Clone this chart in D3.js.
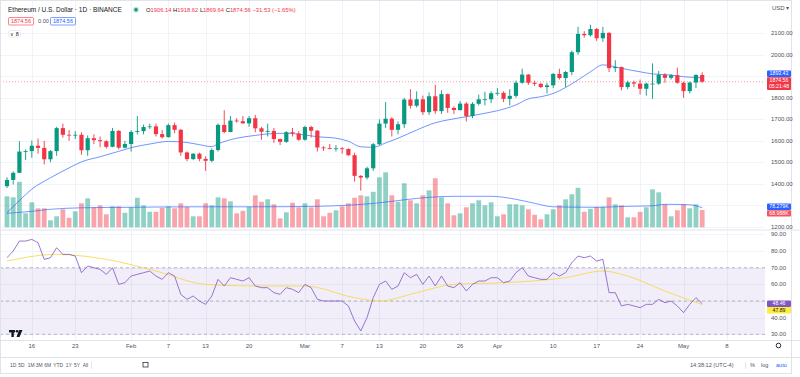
<!DOCTYPE html>
<html>
<head>
<meta charset="utf-8">
<script src="https://cdn.jsdelivr.net/npm/d3@7"></script>
<style>
  body { margin: 0; background: #ffffff; }
  svg { display: block; }
</style>
</head>
<body>
<script>

// ETH / USD daily candles from Jan 12 to May 4 2023 (one value per day)
var firstDay = "2023-01-12"
var lastTickDay = "2023-05-08"

var opens = [1389, 1418, 1451, 1550, 1552, 1577, 1567, 1514, 1552, 1659,
  1628, 1627, 1628, 1556, 1612, 1603, 1598, 1572, 1646, 1568,
  1585, 1641, 1645, 1664, 1667, 1631, 1617, 1673, 1651, 1546,
  1515, 1540, 1516, 1507, 1557, 1674, 1641, 1694, 1691, 1681,
  1705, 1658, 1642, 1646, 1608, 1595, 1640, 1634, 1605, 1664,
  1647, 1569, 1566, 1564, 1565, 1562, 1533, 1437, 1429, 1472,
  1584, 1680, 1703, 1651, 1677, 1792, 1763, 1793, 1733, 1807,
  1738, 1817, 1753, 1743, 1773, 1715, 1772, 1793, 1793, 1821,
  1823, 1795, 1809, 1870, 1908, 1870, 1865, 1850, 1858, 1911,
  1892, 1920, 2012, 2097, 2091, 2120, 2077, 2102, 1938, 1943,
  1850, 1872, 1866, 1842, 1866, 1866, 1907, 1893, 1905, 1870,
  1831, 1871, 1906.14]

var highs = [1430, 1458, 1598, 1560, 1601, 1610, 1600, 1557, 1665, 1680,
  1650, 1645, 1640, 1625, 1630, 1620, 1603, 1660, 1650, 1600,
  1650, 1715, 1675, 1680, 1680, 1650, 1680, 1685, 1655, 1550,
  1542, 1545, 1528, 1565, 1680, 1742, 1715, 1705, 1715, 1715,
  1720, 1665, 1680, 1660, 1610, 1645, 1660, 1645, 1670, 1670,
  1650, 1575, 1585, 1580, 1570, 1565, 1545, 1440, 1480, 1590,
  1700, 1780, 1710, 1690, 1800, 1840, 1830, 1810, 1825, 1860,
  1835, 1820, 1760, 1785, 1780, 1780, 1815, 1828, 1830, 1845,
  1830, 1840, 1880, 1935, 1910, 1880, 1870, 1870, 1915, 1935,
  1925, 2020, 2130, 2110, 2140, 2125, 2130, 2105, 1975, 1945,
  1880, 1880, 1885, 1870, 1960, 1925, 1915, 1910, 1940, 1875,
  1875, 1910, 1918.62]

var lows = [1380, 1397, 1450, 1510, 1521, 1540, 1490, 1500, 1530, 1615,
  1600, 1608, 1535, 1530, 1585, 1570, 1564, 1570, 1560, 1565,
  1550, 1630, 1630, 1655, 1620, 1610, 1615, 1635, 1530, 1505,
  1510, 1505, 1460, 1500, 1550, 1635, 1640, 1685, 1680, 1665,
  1640, 1605, 1620, 1590, 1580, 1590, 1620, 1600, 1600, 1615,
  1550, 1553, 1560, 1550, 1540, 1530, 1410, 1368, 1420, 1460,
  1580, 1660, 1620, 1630, 1660, 1750, 1755, 1720, 1720, 1725,
  1725, 1730, 1725, 1740, 1690, 1705, 1765, 1765, 1775, 1810,
  1780, 1765, 1800, 1865, 1860, 1855, 1845, 1820, 1845, 1885,
  1850, 1905, 2000, 2080, 2085, 2065, 2060, 1920, 1920, 1835,
  1840, 1850, 1815, 1810, 1795, 1860, 1870, 1885, 1865, 1800,
  1820, 1845, 1869.64]

var closes = [1418, 1451, 1550, 1552, 1577, 1567, 1514, 1552, 1659, 1628,
  1627, 1628, 1556, 1612, 1603, 1598, 1572, 1646, 1568, 1585,
  1641, 1645, 1664, 1667, 1631, 1617, 1673, 1651, 1546, 1515,
  1540, 1516, 1507, 1557, 1674, 1641, 1694, 1691, 1681, 1705,
  1658, 1642, 1646, 1608, 1595, 1640, 1634, 1605, 1664, 1647,
  1569, 1566, 1564, 1565, 1562, 1533, 1437, 1429, 1472, 1584,
  1680, 1703, 1651, 1677, 1792, 1763, 1793, 1733, 1807, 1738,
  1817, 1753, 1743, 1773, 1715, 1772, 1793, 1793, 1821, 1823,
  1795, 1809, 1870, 1908, 1870, 1865, 1850, 1858, 1911, 1892,
  1920, 2012, 2097, 2091, 2120, 2077, 2102, 1938, 1943, 1850,
  1872, 1866, 1842, 1866, 1866, 1907, 1893, 1905, 1870, 1831,
  1871, 1906, 1874.56]

// Volume in thousands
var volumes = [124, 120, 182, 56, 100, 76, 76, 28, 44, 72,
  38, 64, 96, 116, 80, 88, 52, 84, 84, 58,
  80, 118, 88, 62, 62, 78, 84, 76, 96, 82,
  44, 44, 96, 88, 120, 116, 104, 56, 66, 82,
  128, 102, 112, 92, 36, 60, 98, 80, 96, 80,
  112, 44, 58, 68, 84, 96, 118, 128, 124, 142,
  200, 220, 128, 102, 176, 108, 96, 128, 148, 196,
  120, 96, 48, 56, 80, 96, 108, 88, 100, 44,
  52, 92, 92, 88, 72, 50, 32, 52, 72, 88,
  112, 132, 158, 62, 74, 82, 82, 120, 92, 88,
  40, 40, 62, 80, 152, 140, 92, 44, 68, 92,
  76, 92, 68.988]

// Moving average of price, read at a few days (day number from Jan 12)
var maDays = [0, 2, 4, 7, 10, 12, 15, 18, 20, 23, 26, 29, 31, 33, 34, 37, 40, 42, 45, 48,
  50, 53, 55, 57, 59, 61, 63, 66, 69, 71, 74, 77, 79, 82, 84, 86, 88, 90, 92, 94,
  96, 98, 99, 102, 104, 107, 109, 112]
var maValues = [1266, 1322, 1375, 1428, 1474, 1502, 1526, 1551, 1568, 1585, 1597, 1592, 1582, 1573, 1586, 1612, 1625, 1632, 1635, 1627,
  1619, 1612, 1598, 1572, 1570, 1590, 1612, 1650, 1684, 1697, 1712, 1728, 1740, 1767, 1795, 1805, 1820, 1848, 1883, 1921,
  1953, 1944, 1937, 1921, 1911, 1906, 1898, 1893.43]

// Moving average of volume (thousands)
var volMaDays = [0, 4, 7, 12, 20, 30, 40, 50, 56, 60, 64, 68, 72, 78, 82, 85, 88, 95, 100, 104, 106, 110, 112]
var volMaValues = [56, 64, 72, 78, 80, 82, 82, 84, 90, 98, 110, 120, 124, 124, 112, 96, 82, 80, 84, 86, 92, 90, 78.279]

// RSI, one value per day
var rsiValues = [76, 80, 86, 86, 87, 85, 75, 76, 82, 78,
  78, 77, 67, 71, 70, 69, 66, 70, 60, 61,
  65, 66, 67, 68, 65, 63, 67, 65, 54, 51,
  53, 50, 48, 53, 63, 59, 64, 63, 62, 64,
  59, 58, 58, 55, 54, 58, 57, 55, 60, 58,
  51, 50, 50, 50, 50, 47, 38, 32, 40, 52,
  60, 62, 57, 59, 67, 64, 66, 60, 65, 59,
  65, 59, 58, 61, 56, 60, 62, 62, 64, 64,
  61, 62, 67, 70, 65, 64, 63, 63, 67, 65,
  67, 73, 77, 76, 77, 74, 75, 55, 55, 47,
  48, 47, 46, 48, 48, 51, 49, 50, 47, 43,
  48, 52, 48.46]

// RSI-based moving average
var rsiMaDays = [0, 8, 16, 24, 32, 40, 48, 56, 60, 66, 72, 80, 90, 96, 100, 106, 112]
var rsiMaValues = [74, 78, 75, 68, 60, 59, 59, 52, 50, 55, 60, 61, 64, 68, 65, 56, 47.89]

// Axis ticks (labels hidden behind value boxes are left out)
var priceTicks = [1200, 1300, 1400, 1500, 1600, 1700, 1800, 1900, 2000, 2100]
var priceTickLabels = [1200, 1400, 1500, 1600, 1700, 1800, 2000, 2100]
var rsiTicks = [30, 40, 50, 60, 70, 80, 90]
var rsiTickLabels = [30, 40, 60, 70, 80, 90]
var timeTickDays = ["2023-01-16", "2023-01-23", "2023-02-01", "2023-02-07", "2023-02-13", "2023-02-20",
  "2023-03-01", "2023-03-07", "2023-03-13", "2023-03-20", "2023-03-26", "2023-04-01",
  "2023-04-10", "2023-04-17", "2023-04-24", "2023-05-01", "2023-05-08"]
var timeTickLabels = ["16", "23", "Feb", "7", "13", "20", "Mar", "7", "13", "20", "26", "Apr",
  "10", "17", "24", "May", "8"]

// Sizes of the picture
var svgW = 800
var svgH = 377
var plotRight = 765
var priceTop = 0
var priceBottom = 229.5
var rsiTop = 231
var rsiBottom = 340
var axisLabelX = 771

var green = "#089981"
var red = "#f23645"
var textColor = "#131722"
var axisColor = "#50535e"
var gridColor = "#f0f3fa"
var lineColor = "#e0e3eb"

var parseDay = d3.utcParse("%Y-%m-%d")
var day0 = parseDay(firstDay)
var dayOf = function(i) { return d3.utcDay.offset(day0, i) }

var candles = opens.map(function(o, i) {
  return {date: dayOf(i), open: o, high: highs[i], low: lows[i], close: closes[i], volume: volumes[i]}
})

// Scales
var xScale = d3.scaleUtc()
  .domain([day0, parseDay(lastTickDay)])
  .range([7, 727])

var yPrice = d3.scaleLinear()
  .domain([1400, 2100])
  .range([183.8, 33.3])

var yVol = d3.scaleLinear()
  .domain([0, 100])
  .range([227.3, 202.3])

var yRsi = d3.scaleLinear()
  .domain([30, 70])
  .range([334.3, 267.7])

var svg = d3.select("body")
  .append("svg")
  .attr("width", svgW)
  .attr("height", svgH)
  .style("font-family", "'Liberation Sans', Arial, sans-serif")

svg.append("rect")
  .attr("width", svgW)
  .attr("height", svgH)
  .attr("fill", "#ffffff")

// Grid lines
var grid = svg.append("g")
grid.selectAll(".vgrid-price")
  .data(timeTickDays)
  .enter()
  .append("line")
    .attr("x1", function(d) { return Math.round(xScale(parseDay(d))) + 0.5 })
    .attr("x2", function(d) { return Math.round(xScale(parseDay(d))) + 0.5 })
    .attr("y1", priceTop)
    .attr("y2", priceBottom)
    .attr("stroke", gridColor)
grid.selectAll(".vgrid-rsi")
  .data(timeTickDays)
  .enter()
  .append("line")
    .attr("x1", function(d) { return Math.round(xScale(parseDay(d))) + 0.5 })
    .attr("x2", function(d) { return Math.round(xScale(parseDay(d))) + 0.5 })
    .attr("y1", rsiTop)
    .attr("y2", rsiBottom)
    .attr("stroke", gridColor)
grid.selectAll(".hgrid-price")
  .data(priceTicks)
  .enter()
  .append("line")
    .attr("x1", 0)
    .attr("x2", plotRight)
    .attr("y1", function(d) { return Math.round(yPrice(d)) + 0.5 })
    .attr("y2", function(d) { return Math.round(yPrice(d)) + 0.5 })
    .attr("stroke", gridColor)
grid.selectAll(".hgrid-rsi")
  .data(rsiTicks)
  .enter()
  .append("line")
    .attr("x1", 0)
    .attr("x2", plotRight)
    .attr("y1", function(d) { return Math.round(yRsi(d)) + 0.5 })
    .attr("y2", function(d) { return Math.round(yRsi(d)) + 0.5 })
    .attr("stroke", gridColor)

// Volume bars and their average
var volW = 4.8
svg.append("g")
  .selectAll("rect")
  .data(candles)
  .enter()
  .append("rect")
    .attr("x", function(d) { return xScale(d.date) - volW / 2 })
    .attr("y", function(d) { return yVol(d.volume) })
    .attr("width", volW)
    .attr("height", function(d) { return yVol(0) - yVol(d.volume) })
    .attr("fill", function(d) { return d.close >= d.open ? green : red })
    .attr("opacity", 0.45)

var volMaLine = d3.line()
  .x(function(d, i) { return xScale(dayOf(volMaDays[i])) })
  .y(function(d) { return yVol(d) })
  .curve(d3.curveMonotoneX)
svg.append("path")
  .attr("d", volMaLine(volMaValues))
  .attr("fill", "none")
  .attr("stroke", "#2962ff")
  .attr("stroke-width", 0.8)
  .attr("opacity", 0.8)

// Moving average of price
var maLine = d3.line()
  .x(function(d, i) { return xScale(dayOf(maDays[i])) })
  .y(function(d) { return yPrice(d) })
  .curve(d3.curveMonotoneX)
svg.append("path")
  .attr("d", maLine(maValues))
  .attr("fill", "none")
  .attr("stroke", "#2962ff")
  .attr("stroke-width", 0.8)
  .attr("opacity", 0.85)

// Last price dotted line
svg.append("line")
  .attr("x1", 0)
  .attr("x2", plotRight)
  .attr("y1", yPrice(closes[closes.length - 1]))
  .attr("y2", yPrice(closes[closes.length - 1]))
  .attr("stroke", red)
  .attr("stroke-width", 0.7)
  .attr("stroke-dasharray", "1,2")
  .attr("opacity", 0.7)

// Candles
var bodyW = 4.2
var candleG = svg.append("g")
candleG.selectAll(".wick")
  .data(candles)
  .enter()
  .append("line")
    .attr("x1", function(d) { return xScale(d.date) })
    .attr("x2", function(d) { return xScale(d.date) })
    .attr("y1", function(d) { return yPrice(d.high) })
    .attr("y2", function(d) { return yPrice(d.low) })
    .attr("stroke", function(d) { return d.close >= d.open ? green : red })
    .attr("stroke-width", 0.9)
candleG.selectAll(".body")
  .data(candles)
  .enter()
  .append("rect")
    .attr("x", function(d) { return xScale(d.date) - bodyW / 2 })
    .attr("y", function(d) { return yPrice(Math.max(d.open, d.close)) })
    .attr("width", bodyW)
    .attr("height", function(d) { return Math.max(0.8, Math.abs(yPrice(d.open) - yPrice(d.close))) })
    .attr("fill", function(d) { return d.close >= d.open ? green : red })

// RSI pane: band, dashed levels, lines
svg.append("rect")
  .attr("x", 0)
  .attr("y", yRsi(70))
  .attr("width", plotRight)
  .attr("height", yRsi(30) - yRsi(70))
  .attr("fill", "#7e57c2")
  .attr("opacity", 0.1)
svg.selectAll(".rsiLevel")
  .data([70, 50, 30])
  .enter()
  .append("line")
    .attr("x1", 0)
    .attr("x2", plotRight)
    .attr("y1", function(d) { return yRsi(d) })
    .attr("y2", function(d) { return yRsi(d) })
    .attr("stroke", "#787b86")
    .attr("stroke-width", 0.7)
    .attr("stroke-dasharray", "3,3")
    .attr("opacity", 0.7)

var rsiMaLine = d3.line()
  .x(function(d, i) { return xScale(dayOf(rsiMaDays[i])) })
  .y(function(d) { return yRsi(d) })
  .curve(d3.curveMonotoneX)
svg.append("path")
  .attr("d", rsiMaLine(rsiMaValues))
  .attr("fill", "none")
  .attr("stroke", "#f5d63d")
  .attr("stroke-width", 0.8)

var rsiLine = d3.line()
  .x(function(d, i) { return xScale(dayOf(i)) })
  .y(function(d) { return yRsi(d) })
svg.append("path")
  .attr("d", rsiLine(rsiValues))
  .attr("fill", "none")
  .attr("stroke", "#7e57c2")
  .attr("stroke-width", 0.8)

// Pane borders
var borders = [[0, svgW, priceBottom + 0.5, priceBottom + 0.5], [0, svgW, rsiBottom + 0.5, rsiBottom + 0.5],
  [0, svgW, 357.5, 357.5]]
svg.selectAll(".border")
  .data(borders)
  .enter()
  .append("line")
    .attr("x1", function(d) { return d[0] })
    .attr("x2", function(d) { return d[1] })
    .attr("y1", function(d) { return d[2] })
    .attr("y2", function(d) { return d[3] })
    .attr("stroke", lineColor)
svg.append("rect")
  .attr("x", 0.5)
  .attr("y", 0.5)
  .attr("width", 791)
  .attr("height", 373)
  .attr("fill", "none")
  .attr("stroke", lineColor)

// Right axis labels
svg.selectAll(".priceLabel")
  .data(priceTickLabels)
  .enter()
  .append("text")
    .attr("x", axisLabelX)
    .attr("y", function(d) { return yPrice(d) + 2 })
    .attr("fill", axisColor)
    .style("font-size", "6px")
    .text(function(d) { return d3.format(".2f")(d) })
svg.selectAll(".rsiLabel")
  .data(rsiTickLabels)
  .enter()
  .append("text")
    .attr("x", axisLabelX)
    .attr("y", function(d) { return yRsi(d) + 2 })
    .attr("fill", axisColor)
    .style("font-size", "6px")
    .text(function(d) { return d3.format(".2f")(d) })
svg.append("text")
  .attr("x", axisLabelX + 1)
  .attr("y", 10)
  .attr("fill", axisColor)
  .style("font-size", "6px")
  .text("USD \u25BE")

// Coloured value boxes on the right axis, stacked so they do not cover each other
var lineH = 6.4
function valueBox(lines, yTop, fill, textFill) {
  svg.append("rect")
    .attr("x", 767)
    .attr("y", yTop)
    .attr("width", 24)
    .attr("height", lineH * lines.length)
    .attr("rx", 1)
    .attr("fill", fill)
  lines.forEach(function(t, i) {
    svg.append("text")
      .attr("x", 779)
      .attr("y", yTop + 4.6 + lineH * i)
      .attr("text-anchor", "middle")
      .attr("fill", textFill)
      .style("font-size", "5.2px")
      .text(t)
  })
}
valueBox(["1893.43"], 70.6, "#2962ff", "#ffffff")
valueBox(["1874.56", "05:21:48"], 77.2, red, "#ffffff")
valueBox(["78.279K"], 203.6, "#2962ff", "#ffffff")
valueBox(["68.988K"], 210.2, "#f7525f", "#ffffff")
valueBox(["48.46"], 300.5, "#7e57c2", "#ffffff")
valueBox(["47.89"], 307.1, "#ffeb3b", textColor)

// Time axis
svg.selectAll(".timeLabel")
  .data(timeTickDays)
  .enter()
  .append("text")
    .attr("x", function(d) { return xScale(parseDay(d)) })
    .attr("y", 347.5)
    .attr("text-anchor", "middle")
    .attr("fill", axisColor)
    .style("font-size", "6px")
    .text(function(d, i) { return timeTickLabels[i] })

// Gear icon
svg.append("circle")
  .attr("cx", 778.5)
  .attr("cy", 345.5)
  .attr("r", 2.3)
  .attr("fill", "none")
  .attr("stroke", textColor)
  .attr("stroke-width", 0.9)

// Bottom toolbar
var ranges = ["1D", "5D", "1M", "3M", "6M", "YTD", "1Y", "5Y", "All"]
var rangeX = [10, 18.3, 27.7, 35.7, 44.3, 53.3, 65.7, 74, 82.7]
svg.selectAll(".range")
  .data(ranges)
  .enter()
  .append("text")
    .attr("x", function(d, i) { return rangeX[i] })
    .attr("y", 367.3)
    .attr("fill", axisColor)
    .style("font-size", "4.9px")
    .text(function(d) { return d })
svg.append("line")
  .attr("x1", 91.5).attr("x2", 91.5)
  .attr("y1", 362).attr("y2", 369)
  .attr("stroke", lineColor)
svg.append("rect")
  .attr("x", 143).attr("y", 362.5)
  .attr("width", 5).attr("height", 4.5)
  .attr("fill", "none")
  .attr("stroke", textColor)
  .attr("stroke-width", 0.7)
svg.append("text")
  .attr("x", 690).attr("y", 367.3)
  .attr("fill", axisColor)
  .style("font-size", "5.6px")
  .text("14:38:12 (UTC-4)")
svg.append("line")
  .attr("x1", 745.5).attr("x2", 745.5)
  .attr("y1", 362).attr("y2", 369)
  .attr("stroke", lineColor)
svg.append("text")
  .attr("x", 750).attr("y", 367.3)
  .attr("fill", axisColor)
  .style("font-size", "5.6px")
  .text("%")
svg.append("text")
  .attr("x", 761).attr("y", 367.3)
  .attr("fill", axisColor)
  .style("font-size", "5.6px")
  .text("log")
svg.append("text")
  .attr("x", 776).attr("y", 367.3)
  .attr("fill", "#2962ff")
  .style("font-size", "5.6px")
  .text("auto")

// TradingView logo in the corner of the RSI pane
var logo = svg.append("g").attr("transform", "translate(9,330)").attr("fill", textColor)
logo.append("rect").attr("x", 0).attr("y", 0).attr("width", 6).attr("height", 2.4)
logo.append("rect").attr("x", 2.4).attr("y", 0).attr("width", 2.4).attr("height", 7)
logo.append("circle").attr("cx", 8).attr("cy", 1.3).attr("r", 1.3)
logo.append("path").attr("d", "M10,0 L13.5,0 L10.5,7 L7.5,7 Z")

// Header
var header = svg.append("g")
header.append("text")
  .attr("x", 8)
  .attr("y", 12)
  .attr("fill", textColor)
  .style("font-size", "6.5px")
  .text("Ethereum / U.S. Dollar \u00b7 1D \u00b7 BINANCE")
header.append("circle")
  .attr("cx", 136).attr("cy", 9.8).attr("r", 3)
  .attr("fill", green).attr("opacity", 0.25)
header.append("circle")
  .attr("cx", 136).attr("cy", 9.8).attr("r", 1.7)
  .attr("fill", green)
var ohlc = header.append("text")
  .attr("x", 146)
  .attr("y", 12)
  .style("font-size", "5.8px")
var ohlcParts = [["O", textColor], ["1906.14", red], [" H", textColor], ["1918.62", red], [" L", textColor],
  ["1869.64", red], [" C", textColor], ["1874.56", red], [" \u221231.53 (\u22121.65%)", red]]
ohlcParts.forEach(function(p) {
  ohlc.append("tspan").attr("fill", p[1]).text(p[0])
})

// Indicator legend row
header.append("rect")
  .attr("x", 8.5).attr("y", 17.5).attr("width", 25).attr("height", 7.5)
  .attr("fill", "#ffffff").attr("stroke", red).attr("stroke-width", 0.6).attr("rx", 1)
header.append("text")
  .attr("x", 21).attr("y", 23.2).attr("text-anchor", "middle")
  .attr("fill", red).style("font-size", "5.6px").text("1874.56")
header.append("text")
  .attr("x", 38).attr("y", 23.2)
  .attr("fill", axisColor).style("font-size", "5.6px").text("0.00")
header.append("rect")
  .attr("x", 50.5).attr("y", 17.5).attr("width", 25).attr("height", 7.5)
  .attr("fill", "#ffffff").attr("stroke", "#2962ff").attr("stroke-width", 0.6).attr("rx", 1)
header.append("text")
  .attr("x", 63).attr("y", 23.2).attr("text-anchor", "middle")
  .attr("fill", "#2962ff").style("font-size", "5.6px").text("1874.56")
header.append("rect")
  .attr("x", 8.5).attr("y", 30.5).attr("width", 12).attr("height", 6.5)
  .attr("fill", "#ffffff").attr("stroke", lineColor).attr("stroke-width", 0.6).attr("rx", 1)
header.append("text")
  .attr("x", 14.5).attr("y", 35.6).attr("text-anchor", "middle")
  .attr("fill", textColor).style("font-size", "5.4px").text("\u2228 8")

</script>
</body>
</html>
